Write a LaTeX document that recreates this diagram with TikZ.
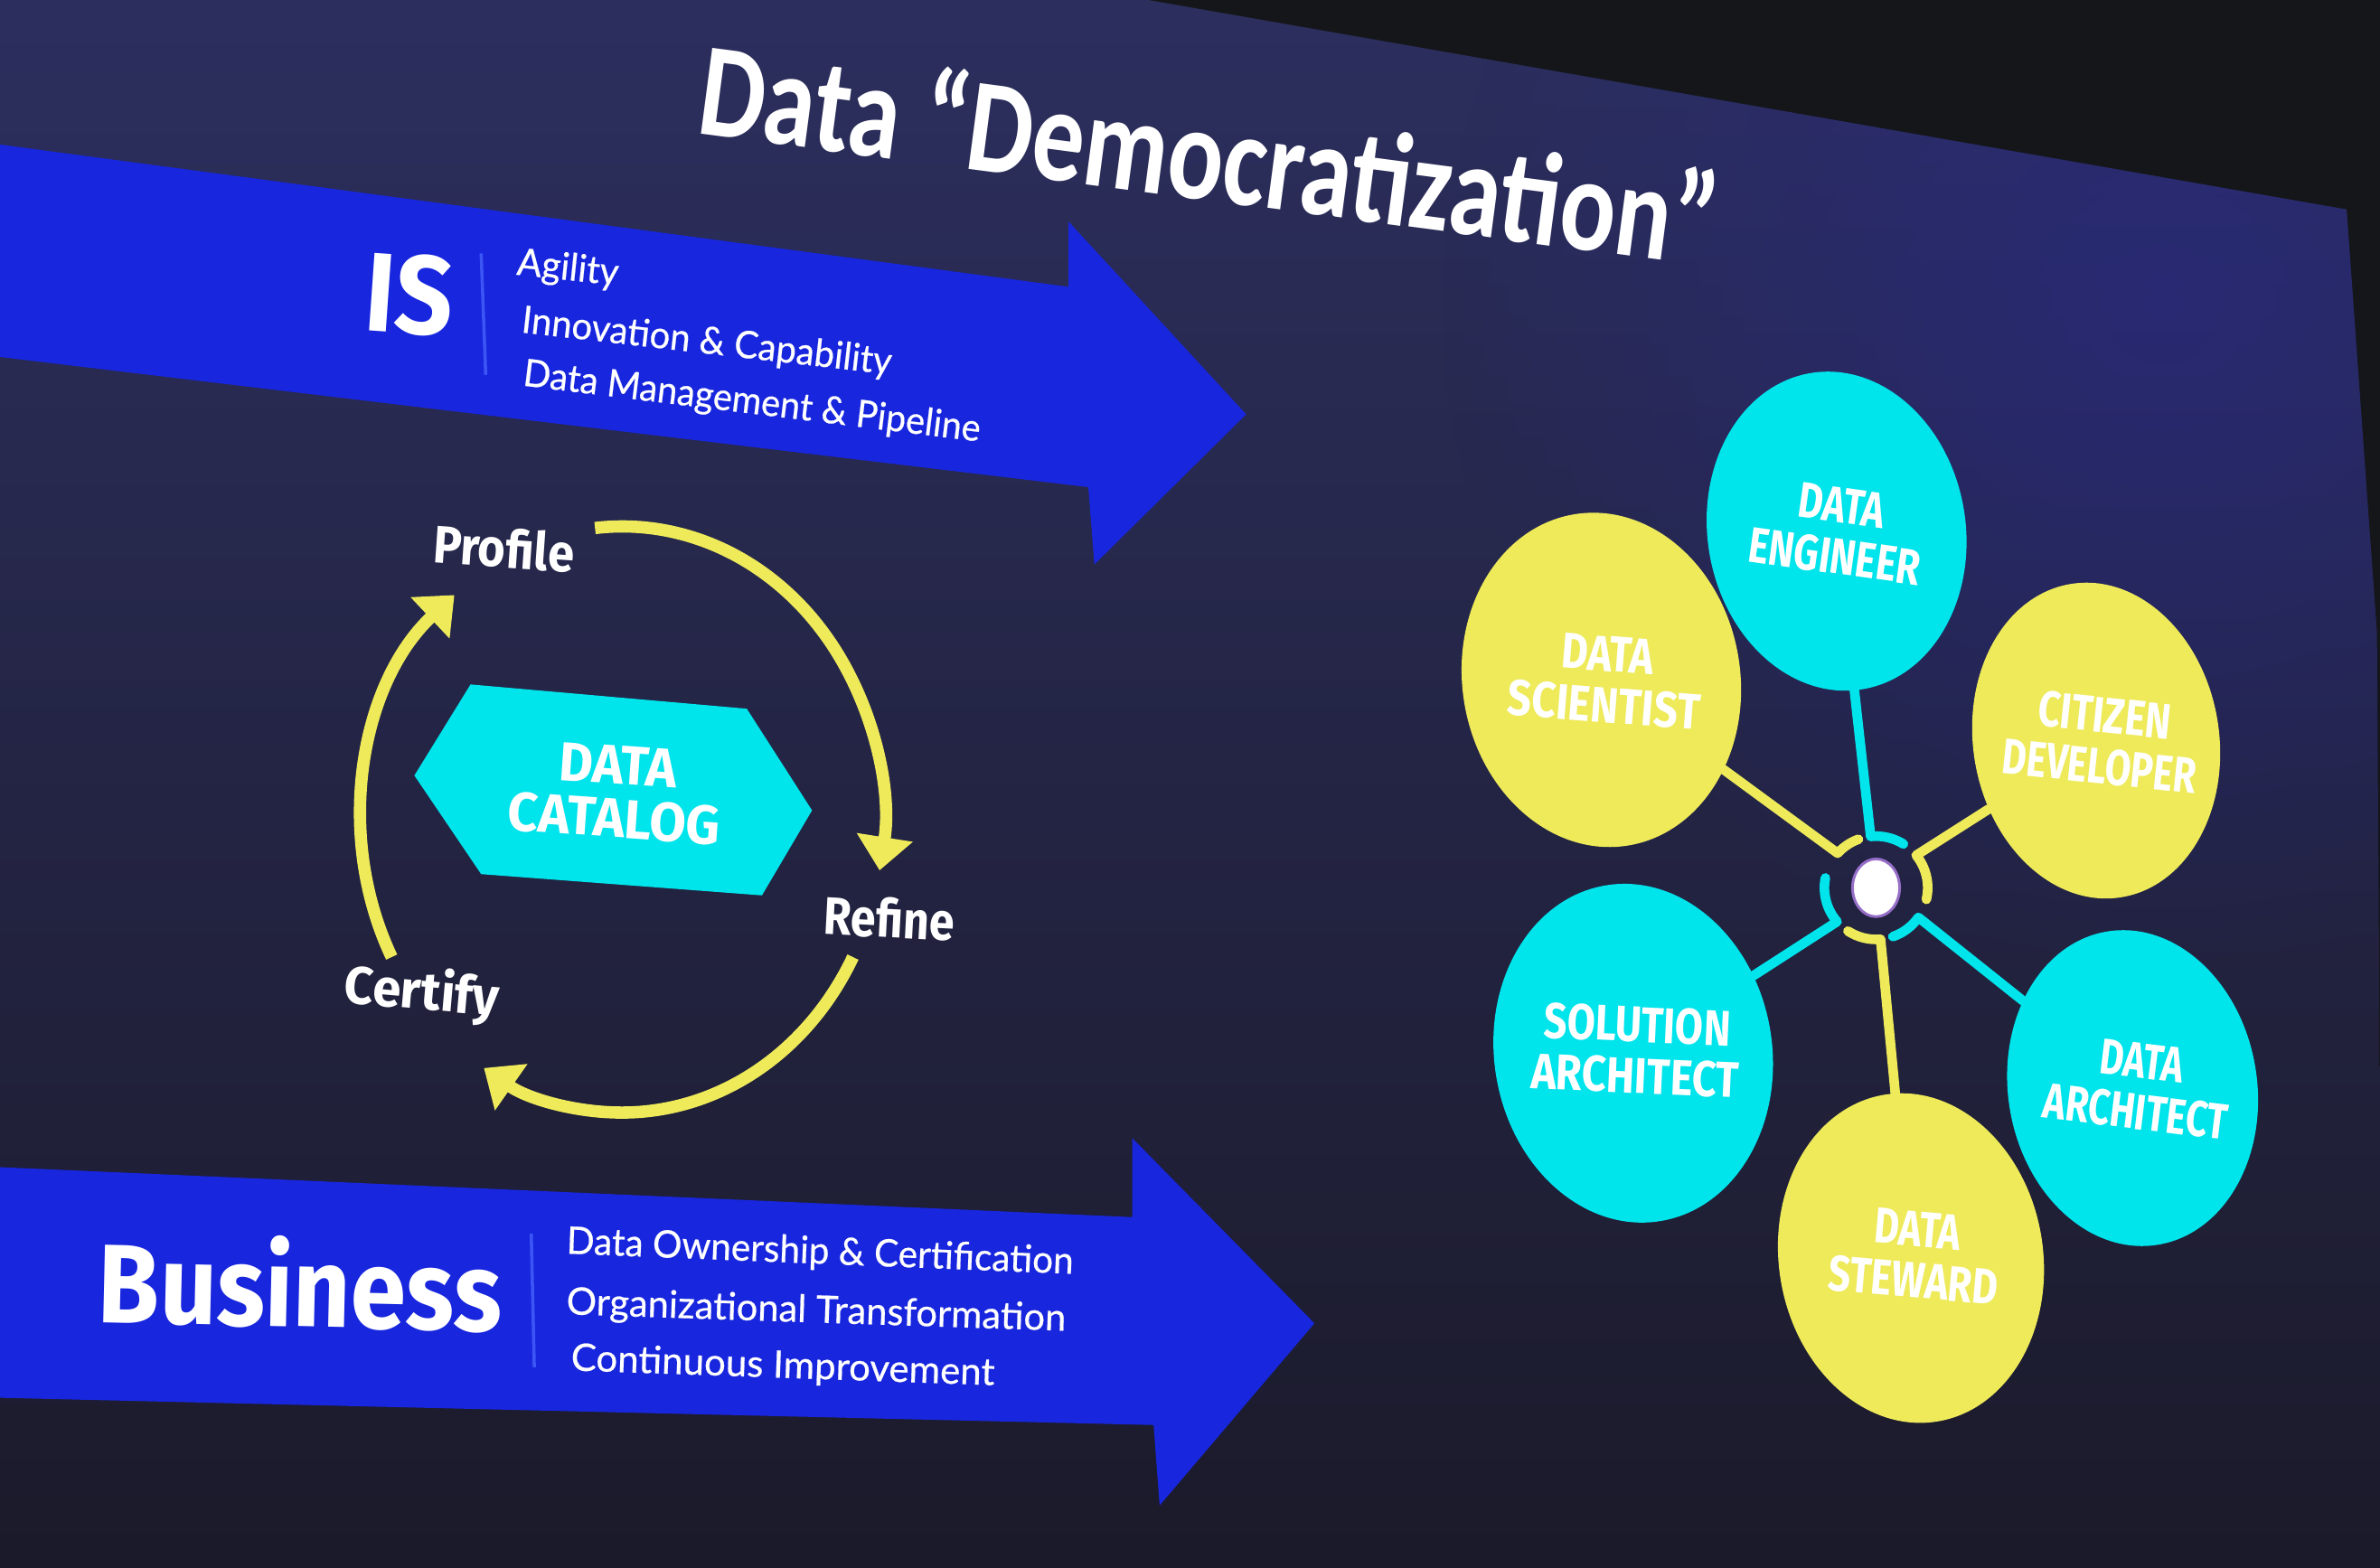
\documentclass[tikz,border=0pt]{standalone}
\usepackage{fontspec}
\usepackage{graphicx}
\usetikzlibrary{arrows.meta,shapes.geometric,fadings}
\setmainfont{Fira Sans}
\newfontfamily\titlefont{Carlito}
\newfontfamily\listfont{Lato}[FakeBold=0.5]

\definecolor{roomdark}{RGB}{21,22,26}
\definecolor{slidetop}{RGB}{44,47,94}
\definecolor{slidebot}{RGB}{27,26,42}
\definecolor{tintblue}{RGB}{40,40,140}
\definecolor{bandblue}{RGB}{24,38,222}
\definecolor{rulerblue}{RGB}{60,85,245}
\definecolor{rolecyan}{RGB}{0,228,236}
\definecolor{roleyellow}{RGB}{238,234,90}
\definecolor{corering}{RGB}{150,110,200}

\tikzfading[name=softglow, inner color=transparent!0, outer color=transparent!100]

% set a text to a given width, keeping its natural height
\newcommand\fitw[2]{\resizebox{#1}{\height}{#2}}

\begin{document}
\begin{tikzpicture}[x=0.01cm, y=-0.01cm,
  txt/.style={text=white, inner sep=0pt, outer sep=0pt},
  band/.style={fill=bandblue},
  divider/.style={draw=rulerblue, line width=0.6pt},
  head/.style={txt, font=\bfseries\fontsize{21}{21}\selectfont},
  listtxt/.style={txt, anchor=base west, font=\listfont\fontsize{7.1}{7.1}\selectfont},
  steplabel/.style={txt, font=\bfseries\fontsize{9.9}{9.9}\selectfont},
  cyclearrow/.style={draw=roleyellow, line width=2.3pt, -{Triangle[length=0.22cm,width=0.36cm]}},
  rolecirc/.style={ellipse, inner sep=0pt, outer sep=0pt, rotate=9},
  cyanrole/.style={rolecirc, fill=rolecyan},
  yellowrole/.style={rolecirc, fill=roleyellow},
  roletext/.style={txt, align=center, font=\bfseries\fontsize{9.4}{9.6}\selectfont},
  spoke/.style={line width=1.8pt, line cap=round, line join=round},
  cyanspoke/.style={spoke, draw=rolecyan},
  yellowspoke/.style={spoke, draw=roleyellow},
]
\useasboundingbox (0,0) rectangle (1568,1033);

% room and projected slide
\fill[roomdark] (0,0) rectangle (1568,1033);
\shade[top color=slidetop, bottom color=slidebot]
  (-2,-2) -- (745,-2) -- (1546,138) -- (1566,417) -- (1570,1035) -- (-2,1035) -- cycle;
\begin{scope}
  \clip (-2,-2) -- (745,-2) -- (1546,138) -- (1566,417) -- (1570,1035) -- (-2,1035) -- cycle;
  \fill[tintblue, opacity=0.55, path fading=softglow, fit fading=true] (950,-250) rectangle (1900,650);
\end{scope}

% title
\node[txt, rotate=-7.5, font=\titlefont\bfseries\fontsize{25}{25}\selectfont] (title)
  at (797,100) {\fitw{6.75cm}{Data “Democratization”}};

% IS band
\fill[band] (-2,95) -- (704,189) -- (704,146) -- (821,273) -- (721,372) -- (717,321) -- (-2,235) -- cycle;
\node[head, rotate=-4] (is) at (270,194) {\fitw{0.58cm}{IS}};
\draw[divider] (317,167) -- (320,247);
\node[listtxt, rotate=-6] (agility) at (340,181) {\fitw{0.67cm}{Agility}};
\node[listtxt, rotate=-6.5] (innov) at (343,219) {\fitw{2.45cm}{Innovation \& Capability}};
\node[listtxt, rotate=-7] (datamgmt) at (344,254) {\fitw{3.03cm}{Data Management \& Pipeline}};

% Business band
\fill[band] (-2,769) -- (746,802) -- (746,750) -- (866,872) -- (764,992) -- (760,939) -- (-2,921) -- cycle;
\node[head, rotate=-1.3] (business) at (198,845) {\fitw{2.66cm}{Business}};
\draw[divider] (350,813) -- (352,901);
\node[listtxt, rotate=-2.3] (ownership) at (373,826) {\fitw{3.34cm}{Data Ownership \& Certification}};
\node[listtxt, rotate=-1.9] (orgtrans) at (373,866) {\fitw{3.29cm}{Organizational Transformation}};
\node[listtxt, rotate=-2] (contimp) at (376,903) {\fitw{2.79cm}{Continuous Improvement}};

% catalog cycle
\coordinate (cyc) at (410,540);
\fill[rolecyan] (273,511) -- (310,451) -- (492,467) -- (535,534) -- (502,590) -- (317,576) -- cycle;
\node[txt, align=center, rotate=-4, font=\bfseries\fontsize{10.3}{10}\selectfont] (catalog)
  at (406,522) {\fitw{0.78cm}{DATA}\\\fitw{1.40cm}{CATALOG}};
\node[steplabel, rotate=-4] (profile) at (332,361) {\fitw{0.93cm}{Profile}};
\node[steplabel, rotate=-3] (refine) at (586,605) {\fitw{0.86cm}{Refine}};
\node[steplabel, rotate=-5] (certify) at (278,655) {\fitw{1.02cm}{Certify}};
\draw[cyclearrow] ([shift={(96:1.72cm and 1.93cm)}]cyc)
  arc[start angle=96, end angle=-10, x radius=1.72cm, y radius=1.93cm];
\draw[cyclearrow] ([shift={(-28:1.72cm and 1.93cm)}]cyc)
  arc[start angle=-28, end angle=-122, x radius=1.72cm, y radius=1.93cm];
\draw[cyclearrow] ([shift={(208:1.72cm and 1.93cm)}]cyc)
  arc[start angle=208, end angle=130, x radius=1.72cm, y radius=1.93cm];

% roles around the hub
\node[cyanrole, minimum width=1.70cm, minimum height=2.11cm] (eng) at (1210,350) {};
\node[yellowrole, minimum width=1.83cm, minimum height=2.21cm] (sci) at (1055,448) {};
\node[yellowrole, minimum width=1.62cm, minimum height=2.09cm] (cit) at (1381,488) {};
\node[cyanrole, minimum width=1.83cm, minimum height=2.24cm] (sol) at (1076,694) {};
\node[cyanrole, minimum width=1.64cm, minimum height=2.09cm] (darch) at (1405,717) {};
\node[yellowrole, minimum width=1.74cm, minimum height=2.18cm] (stew) at (1259,829) {};

\node[roletext, rotate=-8] (engtext) at (1211,350) {\fitw{0.57cm}{DATA}\\\fitw{1.14cm}{ENGINEER}};
\node[roletext, rotate=-4.5] (scitext) at (1058,448) {\fitw{0.61cm}{DATA}\\\fitw{1.27cm}{SCIENTIST}};
\node[roletext, rotate=-6] (cittext) at (1385,488) {\fitw{0.88cm}{CITIZEN}\\\fitw{1.28cm}{DEVELOPER}};
\node[roletext, rotate=-2.5] (soltext) at (1078,692) {\fitw{1.23cm}{SOLUTION}\\\fitw{1.37cm}{ARCHITECT}};
\node[roletext, rotate=-7] (darchtext) at (1409,716) {\fitw{0.55cm}{DATA}\\\fitw{1.22cm}{ARCHITECT}};
\node[roletext, rotate=-5] (stewtext) at (1262,827) {\fitw{0.57cm}{DATA}\\\fitw{1.12cm}{STEWARD}};

% hub with bent spokes
\node[circle, inner sep=0pt, outer sep=0pt, minimum size=0.68cm] (hub) at (1236,585) {};
\draw[cyanspoke] (eng) -- (hub.96) arc[start angle=96, delta angle=-38, radius=0.34cm];
\draw[yellowspoke] (sci) -- (hub.138) arc[start angle=138, delta angle=-28, radius=0.34cm];
\draw[yellowspoke] (cit) -- (hub.39) arc[start angle=39, delta angle=-52, radius=0.34cm];
\draw[cyanspoke] (sol) -- (hub.221) arc[start angle=221, delta angle=-52, radius=0.34cm];
\draw[yellowspoke] (stew) -- (hub.275) arc[start angle=275, delta angle=-38, radius=0.34cm];
\draw[cyanspoke] (darch) -- (hub.325) arc[start angle=325, delta angle=-36, radius=0.34cm];
\node[ellipse, fill=white, draw=corering, line width=0.5pt, inner sep=0pt,
  minimum width=0.31cm, minimum height=0.38cm] (core) at (hub) {};
\end{tikzpicture}
\end{document}
